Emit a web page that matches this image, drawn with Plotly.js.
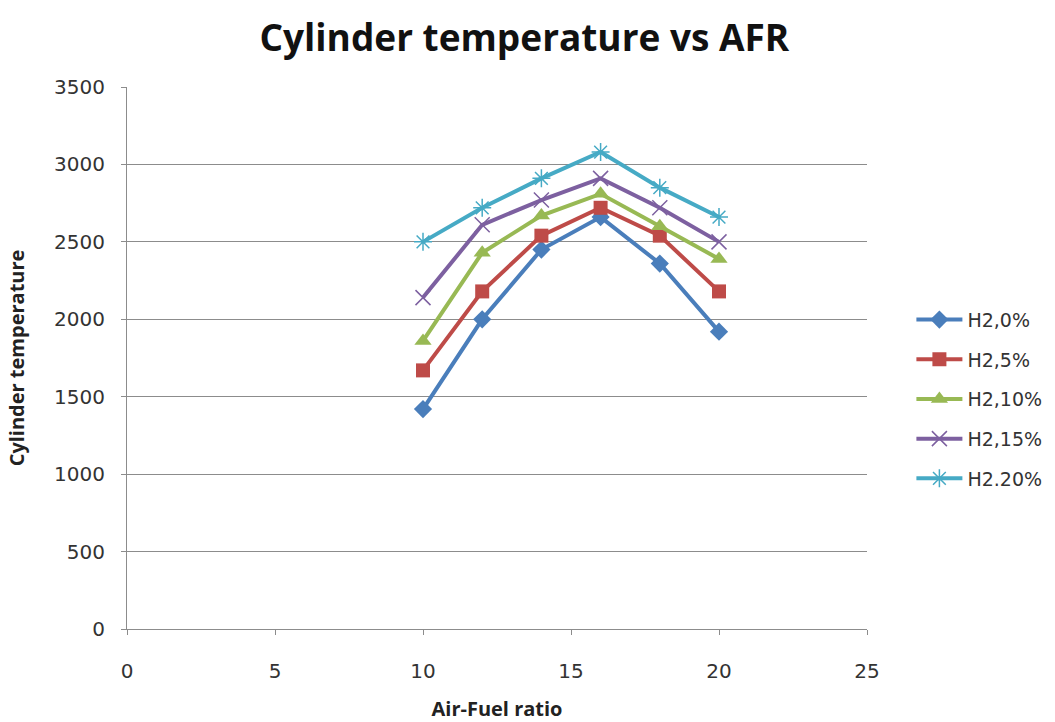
<!DOCTYPE html>
<html>
<head>
<meta charset="utf-8">
<script src="https://cdn.plot.ly/plotly-3.0.1.min.js"></script>
<style>
  html, body { margin: 0; padding: 0; background: #ffffff; }
  #chart { width: 1055px; height: 722px; }
</style>
</head>
<body>
<div id="chart"></div>
<script>
// Air-fuel ratio sampling points
const afr = [10, 12, 14, 16, 18, 20];

// Cylinder temperature for each hydrogen fraction
const h2_0  = [1420, 2000, 2450, 2660, 2360, 1920];
const h2_5  = [1670, 2180, 2540, 2720, 2540, 2180];
const h2_10 = [1860, 2430, 2670, 2810, 2600, 2390];
const h2_15 = [2140, 2610, 2770, 2910, 2720, 2500];
const h2_20 = [2500, 2720, 2910, 3080, 2850, 2660];

const seriesNames = ['H2,0%', 'H2,5%', 'H2,10%', 'H2,15%', 'H2.20%'];
const seriesValues = [h2_0, h2_5, h2_10, h2_15, h2_20];

const xTicks = [0, 5, 10, 15, 20, 25];
const yTicks = [0, 500, 1000, 1500, 2000, 2500, 3000, 3500];

const styles = [
  { color: '#4a7ebb', symbol: 'diamond', size: 14, lineW: 0 },
  { color: '#be4b48', symbol: 'square', size: 14, lineW: 0 },
  { color: '#98b954', symbol: 'triangle-up', size: 15, lineW: 0 },
  { color: '#7d60a0', symbol: 'x-thin-open', size: 15, lineW: 1.5 },
  { color: '#46aac5', symbol: 'asterisk-open', size: 15, lineW: 1.5 }
];

const traces = seriesValues.map((vals, i) => ({
  type: 'scatter',
  mode: 'lines+markers',
  name: seriesNames[i],
  legendgroup: 'g' + i,
  x: afr,
  y: vals,
  line: { color: styles[i].color, width: 4 },
  marker: {
    symbol: styles[i].symbol,
    size: styles[i].size,
    color: styles[i].color,
    line: { color: styles[i].color, width: styles[i].lineW }
  }
}));

const tickFont = { family: 'DejaVu Sans, Verdana, sans-serif', size: 20, color: '#333333' };
const axisTitleFont = { family: 'Liberation Sans Narrow, Open Sans, sans-serif', size: 20, color: '#222222' };

const layout = {
  width: 1055,
  height: 722,
  paper_bgcolor: '#ffffff',
  plot_bgcolor: '#ffffff',
  margin: { l: 127, r: 188, t: 87, b: 93, autoexpand: false },
  title: {
    text: '<b>Cylinder temperature vs AFR</b>',
    font: { family: 'Open Sans, sans-serif', size: 37, color: '#111111' },
    x: 0.497, xanchor: 'center',
    y: 0.947, yanchor: 'middle'
  },
  xaxis: {
    range: [0, 25],
    tickvals: xTicks,
    ticktext: xTicks.map(String),
    showgrid: false,
    zeroline: false,
    showline: true,
    linecolor: '#8c8c8c',
    linewidth: 1,
    ticks: 'outside',
    ticklen: 5,
    tickcolor: '#8c8c8c',
    ticklabelstandoff: 19,
    tickfont: tickFont,
    title: {
      text: '<b>Air-Fuel ratio</b>',
      font: axisTitleFont,
      standoff: 32
    }
  },
  yaxis: {
    range: [0, 3500],
    tickvals: yTicks,
    ticktext: yTicks.map(String),
    showgrid: true,
    gridcolor: '#8c8c8c',
    gridwidth: 1,
    zeroline: false,
    showline: true,
    linecolor: '#8c8c8c',
    linewidth: 1,
    ticks: 'outside',
    ticklen: 5,
    tickcolor: '#8c8c8c',
    ticklabelstandoff: 12,
    tickfont: tickFont,
    title: {
      text: '<b>Cylinder temperature</b>',
      font: axisTitleFont,
      standoff: 24
    }
  },
  legend: {
    x: 1.06, xanchor: 'left',
    y: 0.424, yanchor: 'middle',
    font: { family: 'DejaVu Sans, Verdana, sans-serif', size: 19, color: '#333333' },
    itemwidth: 46,
    tracegroupgap: 12,
    bgcolor: 'rgba(0,0,0,0)'
  },
  showlegend: true
};

Plotly.newPlot('chart', traces, layout, { displayModeBar: false, staticPlot: true });
</script>
</body>
</html>
